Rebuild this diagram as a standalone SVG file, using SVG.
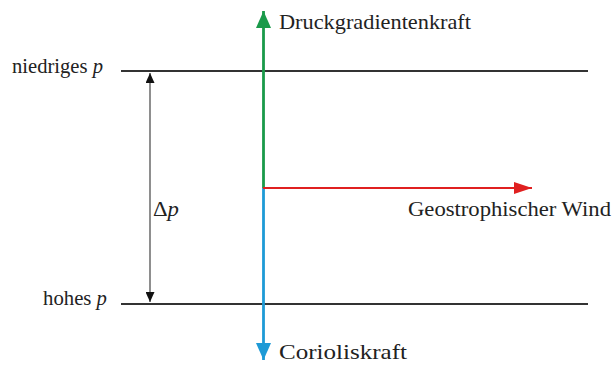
<svg xmlns="http://www.w3.org/2000/svg" width="613" height="365" viewBox="0 0 613 365">
<style>
text{font-family:"Liberation Serif","Times New Roman",serif;font-size:21px;fill:#222}
.iso{stroke:#333;stroke-width:2.2}
</style>
<defs>
<marker id="ag" viewBox="0 0 10 10" refX="10" refY="5" markerWidth="17" markerHeight="15" markerUnits="userSpaceOnUse" orient="auto" preserveAspectRatio="none"><path d="M0,0L10,5L0,10z" fill="#1a9a4a"/></marker>
<marker id="ab" viewBox="0 0 10 10" refX="10" refY="5" markerWidth="17" markerHeight="15" markerUnits="userSpaceOnUse" orient="auto" preserveAspectRatio="none"><path d="M0,0L10,5L0,10z" fill="#1e9ad6"/></marker>
<marker id="ar" viewBox="0 0 10 10" refX="10" refY="5" markerWidth="18" markerHeight="12" markerUnits="userSpaceOnUse" orient="auto" preserveAspectRatio="none"><path d="M0,0L10,5L0,10z" fill="#e02020"/></marker>
<marker id="ak" viewBox="0 0 10 10" refX="10" refY="5" markerWidth="10" markerHeight="9" markerUnits="userSpaceOnUse" orient="auto" preserveAspectRatio="none"><path d="M0,0L10,5L0,10z" fill="#111"/></marker>
</defs>
<g id="isobars">
<line class="iso" x1="121" y1="71" x2="588" y2="71"/>
<line class="iso" x1="121" y1="304" x2="588" y2="304"/>
<text x="12" y="73" textLength="91" lengthAdjust="spacingAndGlyphs">niedriges <tspan font-style="italic">p</tspan></text>
<text x="43" y="305" textLength="64" lengthAdjust="spacingAndGlyphs">hohes <tspan font-style="italic">p</tspan></text>
</g>
<g id="connectors">
<line x1="150" y1="180" x2="150" y2="73" stroke="#444" stroke-width="1.2" marker-end="url(#ak)"/>
<line x1="150" y1="180" x2="150" y2="302" stroke="#444" stroke-width="1.2" marker-end="url(#ak)"/>
<line x1="263.5" y1="188" x2="263.5" y2="11" stroke="#1a9a4a" stroke-width="2.8" marker-end="url(#ag)"/>
<line x1="263.5" y1="188" x2="263.5" y2="360" stroke="#1e9ad6" stroke-width="2.8" marker-end="url(#ab)"/>
<line x1="263" y1="188" x2="532" y2="188" stroke="#e02020" stroke-width="1.8" marker-end="url(#ar)"/>
</g>
<g id="labels">
<text x="279" y="29" textLength="192" lengthAdjust="spacingAndGlyphs">Druckgradientenkraft</text>
<text x="153" y="216" textLength="26" lengthAdjust="spacingAndGlyphs">Δ<tspan font-style="italic">p</tspan></text>
<text x="408" y="216" textLength="203" lengthAdjust="spacingAndGlyphs">Geostrophischer Wind</text>
<text x="279" y="359" textLength="128" lengthAdjust="spacingAndGlyphs">Corioliskraft</text>
</g>
</svg>
